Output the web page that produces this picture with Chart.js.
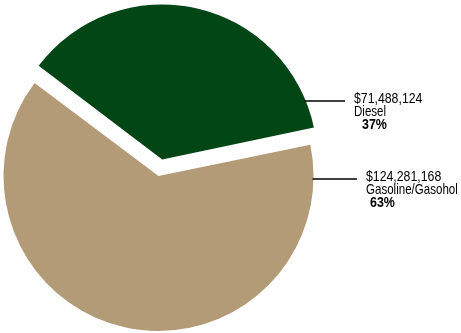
<!DOCTYPE html>
<html>
<head>
<meta charset="utf-8">
<script src="https://cdn.jsdelivr.net/npm/chart.js@4/dist/chart.umd.min.js"></script>
<style>
  html, body { margin: 0; padding: 0; background: #fff; }
  #wrap { width: 461px; height: 333px; }
</style>
</head>
<body>
<div id="wrap"><canvas id="c" width="461" height="333"></canvas></div>
<script>
// Fuel sales by type
const categories = ['Diesel', 'Gasoline/Gasohol'];
const amounts = [71488124, 124281168];
const amountLabels = ['$71,488,124', '$124,281,168'];
const percentLabels = ['37%', '63%'];
const sliceColors = ['#034615', '#B39B77'];

const FONT = '"Liberation Sans", Arial, sans-serif';
const PIE_RADIUS = 155;

// Draws text horizontally condensed, like a narrow typeface
function narrowText(ctx, text, x, y, font, squeeze) {
  ctx.save();
  ctx.font = font;
  ctx.translate(x, y);
  ctx.scale(squeeze, 1);
  ctx.fillText(text, 0, 0);
  ctx.restore();
}

// An exploded arc is drawn slightly larger by Chart.js; shrink it back so
// the pulled-out slice keeps the same radius as the rest of the pie.
const keepRadius = {
  id: 'keepRadius',
  beforeDatasetsDraw(chart) {
    chart.getDatasetMeta(0).data.forEach(arc => {
      const off = (arc.options.offset || 0) / 4;
      const fix = 1 - Math.sin(Math.min(Math.PI, arc.circumference || 0));
      arc.outerRadius = PIE_RADIUS - off * fix;
    });
  }
};

// Callout labels with horizontal leader lines to the right of the pie
const callouts = {
  id: 'callouts',
  afterDatasetsDraw(chart) {
    const ctx = chart.ctx;
    const arcs = chart.getDatasetMeta(0).data;
    // per-slice layout: leader line y, line end x, text x, percent x
    const layout = [
      { lineY: 101, lineEnd: 345, textX: 354, pctX: 362 },
      { lineY: 179, lineEnd: 357, textX: 366, pctX: 370 }
    ];
    ctx.save();
    arcs.forEach((arc, i) => {
      const L = layout[i];
      const mid = (arc.startAngle + arc.endAngle) / 2;
      const shift = (arc.options.offset || 0) / 4;
      const cx = arc.x + Math.cos(mid) * shift;
      const cy = arc.y + Math.sin(mid) * shift;
      const dy = L.lineY - cy;
      const r = PIE_RADIUS;
      const startX = cx + Math.sqrt(Math.max(r * r - dy * dy, 0)) - 1;
      ctx.strokeStyle = '#000';
      ctx.lineWidth = 1.3;
      ctx.beginPath();
      ctx.moveTo(startX, L.lineY);
      ctx.lineTo(L.lineEnd, L.lineY);
      ctx.stroke();

      ctx.fillStyle = '#000';
      ctx.textBaseline = 'alphabetic';
      ctx.textAlign = 'left';
      narrowText(ctx, amountLabels[i], L.textX, L.lineY + 2, '15px ' + FONT, 0.82);
      narrowText(ctx, categories[i], L.textX, L.lineY + 15, '15px ' + FONT, 0.77);
      narrowText(ctx, percentLabels[i], L.pctX, L.lineY + 28, 'bold 15px ' + FONT, 0.83);
    });
    ctx.restore();
  }
};

new Chart(document.getElementById('c'), {
  type: 'pie',
  data: {
    labels: categories,
    datasets: [{
      data: amounts,
      backgroundColor: sliceColors,
      borderWidth: 0,
      offset: [68, 0],
      hoverOffset: 0
    }]
  },
  options: {
    responsive: false,
    animation: false,
    rotation: -53.1,
    radius: PIE_RADIUS,
    layout: { padding: { left: 3, right: 147, top: 21, bottom: 2 } },
    plugins: {
      legend: { display: false },
      tooltip: { enabled: false }
    },
    events: []
  },
  plugins: [keepRadius, callouts]
});
</script>
</body>
</html>
